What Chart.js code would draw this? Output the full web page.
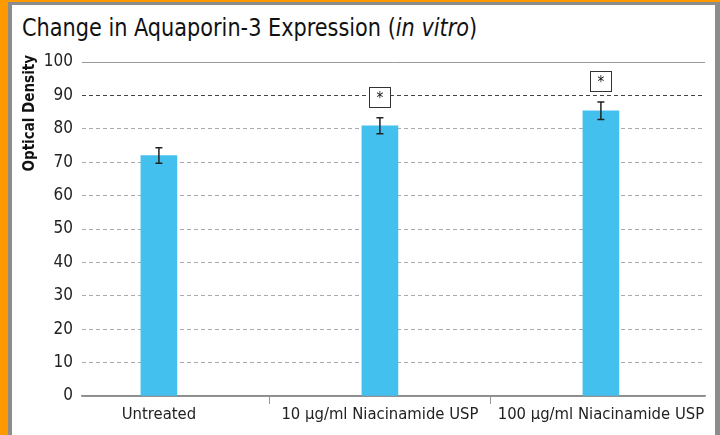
<!DOCTYPE html>
<html>
<head>
<meta charset="utf-8">
<script src="https://cdn.jsdelivr.net/npm/chart.js@4"></script>
<style>
  html, body { margin: 0; padding: 0; }
  body { width: 720px; height: 435px; background: #ff9900; position: relative; overflow: hidden; }
  #panel {
    position: absolute; left: 8px; top: 2px; width: 703px; height: 433px;
    background: #fff; border-left: 4px solid #8c8c8c; border-top: 3px solid #8c8c8c; border-right: 5px solid #8c8c8c;
  }
  #title {
    position: absolute; left: 22px; top: 14px; font-family: "DejaVu Sans Condensed", "Liberation Sans Narrow", sans-serif;
    font-size: 24px; color: #111; white-space: nowrap; transform: scaleX(0.965); transform-origin: left top;
  }
  #chart { position: absolute; left: 0; top: 0; }
</style>
</head>
<body>
<div id="panel"></div>
<div id="title">Change in Aquaporin-3 Expression (<i>in vitro</i>)</div>
<canvas id="chart" width="720" height="435"></canvas>
<script>
const categories = ['Untreated', '10 µg/ml Niacinamide USP', '100 µg/ml Niacinamide USP'];
const values = [72, 80.9, 85.4];
const errors = [2.3, 2.4, 2.6];
const marks = ['', '*', '*'];
const yTicks = [0, 10, 20, 30, 40, 50, 60, 70, 80, 90, 100];
const yTitle = 'Optical Density';

const FONT = '"DejaVu Sans Condensed", "Liberation Sans Narrow", sans-serif';

// error bars, significance boxes, y title
const extras = {
  id: 'extras',
  afterDatasetsDraw(chart) {
    const c = chart.ctx;
    const xs = chart.scales.x, ys = chart.scales.y;
    c.save();
    values.forEach((v, i) => {
      const x = xs.getPixelForValue(i);
      const top = ys.getPixelForValue(v + errors[i]);
      const bot = ys.getPixelForValue(v - errors[i]);
      c.strokeStyle = '#222';
      c.lineWidth = 1.5;
      c.beginPath();
      c.moveTo(x, top); c.lineTo(x, bot);
      c.moveTo(x - 3.5, top); c.lineTo(x + 3.5, top);
      c.moveTo(x - 3.5, bot); c.lineTo(x + 3.5, bot);
      c.stroke();
      if (marks[i]) {
        const bx = Math.round(x) - 11, by = Math.round(top) - 31;
        c.fillStyle = '#fff';
        c.fillRect(bx, by, 22, 21);
        c.lineWidth = 1;
        c.strokeStyle = '#333';
        c.strokeRect(bx + 0.5, by + 0.5, 21, 20);
        c.fillStyle = '#111';
        c.font = '15px ' + FONT;
        c.textAlign = 'center';
        c.textBaseline = 'middle';
        c.fillText(marks[i], x, by + 12);
      }
    });
    // y axis title, placed near the top like the original
    c.translate(30, 55);
    c.rotate(-Math.PI / 2);
    c.fillStyle = '#111';
    c.font = 'bold 15px ' + FONT;
    c.textAlign = 'right';
    c.textBaseline = 'middle';
    c.fillText(yTitle, 0, 0);
    c.restore();
  }
};

new Chart(document.getElementById('chart'), {
  type: 'bar',
  data: {
    datasets: [{
      data: categories.map((c, i) => ({ x: i, y: values[i] })),
      backgroundColor: '#44c0ef',
      barThickness: 36
    }]
  },
  options: {
    responsive: false,
    animation: false,
    layout: { padding: { left: 12, right: 15, top: 62, bottom: 0 } },
    plugins: { legend: { display: false }, tooltip: { enabled: false } },
    scales: {
      x: {
        type: 'linear',
        min: -0.348, max: 2.471,
        offset: false,
        afterBuildTicks: s => { s.ticks = [0, 0.5, 1, 1.5, 2].map(v => ({ value: v })); },
        afterFit: s => { s.height = 39; },
        border: { display: true, color: '#8c8c8c', width: 1.5 },
        grid: {
          offset: false,
          drawOnChartArea: false,
          tickLength: 8,
          color: ctx => (ctx.tick && ctx.tick.value % 1 !== 0) ? '#999' : 'rgba(0,0,0,0)'
        },
        ticks: {
          autoSkip: false, maxRotation: 0, padding: 1,
          color: '#222',
          font: { family: FONT, size: 16.5 },
          callback: v => (v % 1 === 0 ? categories[v] : '')
        }
      },
      y: {
        min: 0, max: 100,
        afterBuildTicks: s => { s.ticks = yTicks.map(v => ({ value: v })); },
        afterFit: s => { s.width = 70; },
        border: {
          display: false,
          dash: ctx => (ctx.tick && (ctx.tick.value === 100 || ctx.tick.value === 0)) ? [] : [4, 3]
        },
        grid: {
          drawTicks: false,
          color: ctx => ctx.tick.value === 100 || ctx.tick.value === 0 ? '#999' : (ctx.tick.value === 90 ? '#444' : '#aaa'),
          lineWidth: 1
        },
        ticks: { padding: 9, color: '#222', font: { family: FONT, size: 17 } }
      }
    }
  },
  plugins: [extras]
});
</script>
</body>
</html>
